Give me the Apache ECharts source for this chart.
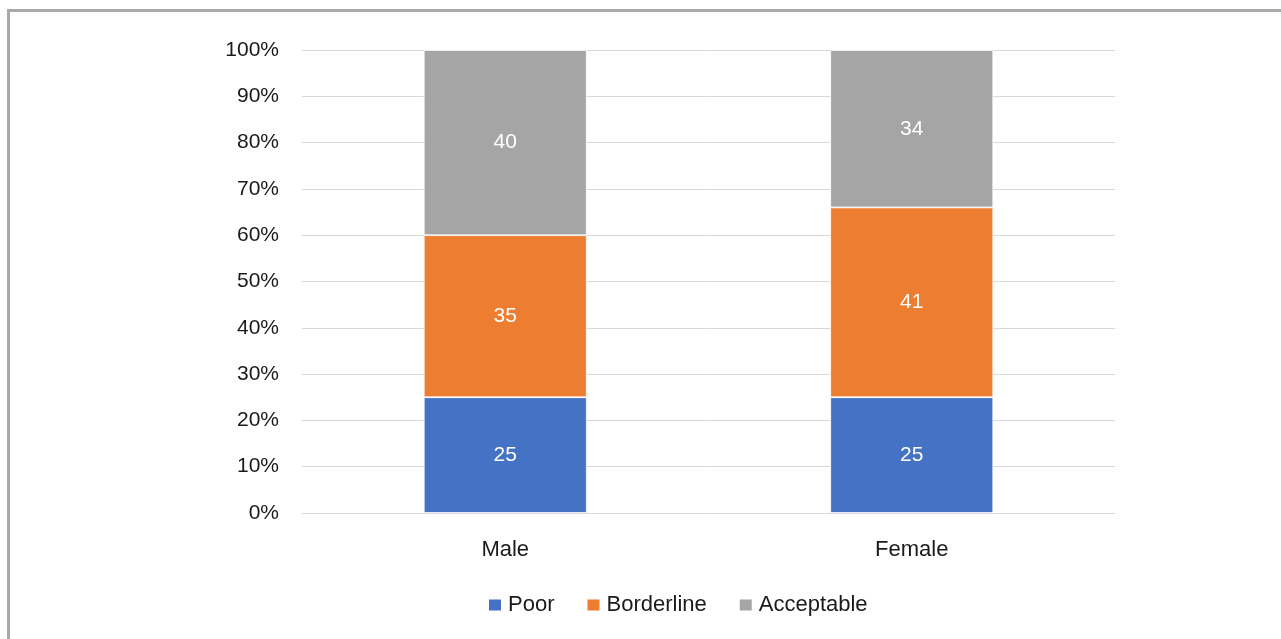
<!DOCTYPE html>
<html>
<head>
<meta charset="utf-8">
<script src="https://cdn.jsdelivr.net/npm/echarts@6/dist/echarts.min.js"></script>
<style>
html,body{margin:0;padding:0;background:#fff;}
#c{width:1281px;height:639px;}
</style>
</head>
<body>
<div id="c"></div>
<script>
const categories = ['Male', 'Female'];
const poor = [25, 25];
const borderline = [35, 41];
const acceptable = [40, 34];
const yTicks = [0, 10, 20, 30, 40, 50, 60, 70, 80, 90, 100];

const chart = echarts.init(document.getElementById('c'));
const font = 'Liberation Sans, Arial, sans-serif';
function seriesOf(name, data, color) {
  return {
    name: name, type: 'bar', stack: 'total', data: data, barWidth: 163,
    itemStyle: { color: color, borderColor: '#ffffff', borderWidth: 0.8 },
    label: { show: true, position: 'inside', color: '#ffffff', fontSize: 21, fontFamily: font, padding: [3, 0, 0, 0] },
    emphasis: { disabled: true }
  };
}
chart.setOption({
  animation: false,
  graphic: [
    { type: 'rect', shape: { x: 7, y: 9, width: 1281, height: 3 }, style: { fill: '#a9a9a9' } },
    { type: 'rect', shape: { x: 7, y: 9, width: 3, height: 640 }, style: { fill: '#a9a9a9' } }
  ],
  grid: { left: 302, right: 166, top: 50, bottom: 126, containLabel: false },
  xAxis: {
    type: 'category', data: categories,
    axisLine: { show: false }, axisTick: { show: false },
    axisLabel: { color: '#1a1a1a', fontSize: 22, fontFamily: font, margin: 26 }
  },
  yAxis: {
    type: 'value', min: 0, max: 100, interval: 10,
    axisLabel: { color: '#1a1a1a', fontSize: 21, fontFamily: font, margin: 23, padding: [3, 0, 0, 0], formatter: v => yTicks.includes(v) ? v + '%' : '' },
    splitLine: { lineStyle: { color: '#d9d9d9', width: 1 } },
    axisLine: { show: false }, axisTick: { show: false }
  },
  legend: {
    top: 589, left: 482, itemWidth: 14, itemHeight: 13, itemGap: 31,
    icon: 'rect',
    textStyle: { color: '#1a1a1a', fontSize: 22, fontFamily: font, padding: [0, 0, 0, 1] },
    data: ['Poor', 'Borderline', 'Acceptable']
  },
  series: [
    seriesOf('Poor', poor, '#4472c4'),
    seriesOf('Borderline', borderline, '#ed7d31'),
    seriesOf('Acceptable', acceptable, '#a5a5a5')
  ]
});
</script>
</body>
</html>
